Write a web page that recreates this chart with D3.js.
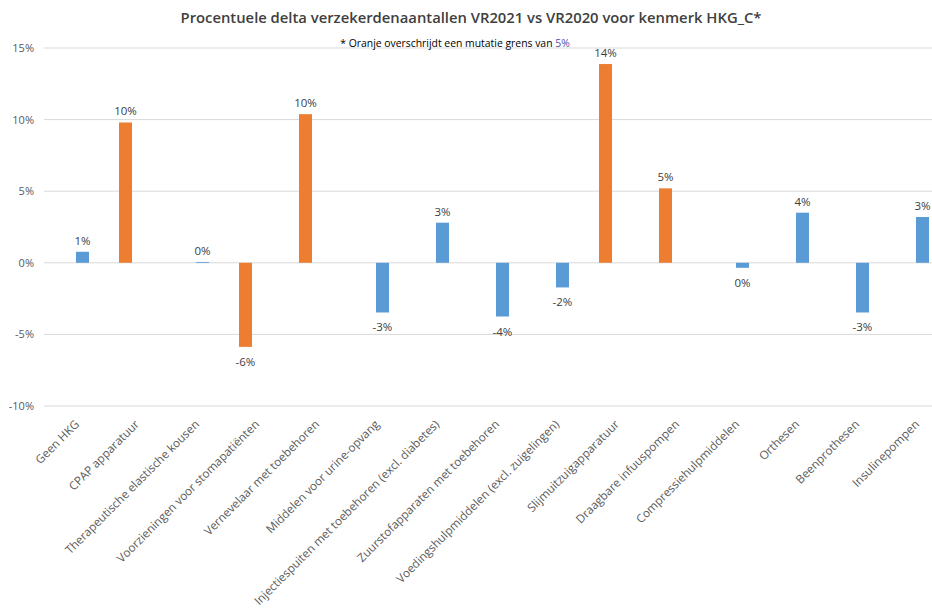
<!DOCTYPE html>
<html>
<head>
<meta charset="utf-8">
<script src="https://cdn.jsdelivr.net/npm/d3@7"></script>
<style>
  body { margin: 0; background: #fff; }
  svg { display: block; }
</style>
</head>
<body>
<svg id="chart" width="932" height="611"></svg>
<script>
const categories = [
  "Geen HKG",
  "CPAP apparatuur",
  "Therapeutische elastische kousen",
  "Voorzieningen voor stomapatiënten",
  "Vernevelaar met toebehoren",
  "Middelen voor urine-opvang",
  "Injectiespuiten met toebehoren (excl. diabetes)",
  "Zuurstofapparaten met toebehoren",
  "Voedingshulpmiddelen (excl. zuigelingen)",
  "Slijmuitzuigapparatuur",
  "Draagbare infuuspompen",
  "Compressiehulpmiddelen",
  "Orthesen",
  "Beenprothesen",
  "Insulinepompen"
];
// Orange = exceeds 5% mutation threshold, blue = within
const orangeValues = [null, 0.098, null, -0.0587, 0.1038, null, null, null, null, 0.1388, 0.052, null, null, null, null];
const blueValues   = [0.0077, null, 0.0006, null, null, -0.0347, 0.028, -0.0375, -0.0172, null, null, -0.0035, 0.035, -0.0347, 0.032];
const yTicks = [-0.10, -0.05, 0, 0.05, 0.10, 0.15];
const titleText = "Procentuele delta verzekerdenaantallen VR2021 vs VR2020 voor kenmerk HKG_C*";
const noteText = "* Oranje overschrijdt een mutatie grens van ";
const noteHighlight = "5%";

const svg = d3.select("#chart");
const plotLeft = 44, plotRight = 944, plotTop = 48, plotBottom = 406;

const x = d3.scaleBand().domain(categories).range([plotLeft, plotRight]).paddingInner(0).paddingOuter(0);
const sub = d3.scaleBand().domain(["oranje", "blauw"]).range([15, 45]).paddingInner(0.235);
const y = d3.scaleLinear().domain([-0.10, 0.15]).range([plotBottom, plotTop]);
const colors = { oranje: "#ED7D31", blauw: "#5B9BD5" };
const pct = v => `${Math.round(v * 100)}%`;
const font = "'Open Sans', sans-serif";

// gridlines
svg.append("g")
  .selectAll("line").data(yTicks).join("line")
  .attr("x1", plotLeft).attr("x2", 932)
  .attr("y1", d => y(d)).attr("y2", d => y(d))
  .attr("stroke", "#d9d9d9").attr("stroke-width", 1);

// y axis labels
const yAxis = d3.axisLeft(y).tickValues(yTicks).tickSize(0).tickPadding(0).tickFormat(pct);
const yg = svg.append("g").attr("transform", `translate(34,0)`).call(yAxis);
yg.select(".domain").remove();
yg.selectAll("text").attr("font-family", font).attr("font-size", 11).attr("fill", "#595959");

// bars
const rows = [];
categories.forEach((c, i) => {
  if (orangeValues[i] != null) rows.push({ c, s: "oranje", v: orangeValues[i] });
  if (blueValues[i] != null) rows.push({ c, s: "blauw", v: blueValues[i] });
});

svg.append("g").selectAll("rect").data(rows).join("rect")
  .attr("x", d => x(d.c) + sub(d.s))
  .attr("width", sub.bandwidth())
  .attr("y", d => Math.min(y(d.v), y(0)))
  .attr("height", d => Math.max(Math.abs(y(d.v) - y(0)), 0.8))
  .attr("fill", d => colors[d.s]);

// data labels
svg.append("g").selectAll("text").data(rows).join("text")
  .attr("x", d => x(d.c) + sub(d.s) + sub.bandwidth() / 2)
  .attr("y", d => d.v >= 0 ? y(d.v) - 7 : y(d.v) + 19)
  .attr("text-anchor", "middle")
  .attr("font-family", font).attr("font-size", 11.5)
  .attr("fill", "#404040")
  .text(d => pct(d.v));

// x category labels
svg.append("g").selectAll("text").data(categories).join("text")
  .attr("transform", d => `translate(${x(d) + x.bandwidth() / 2 + 6},425) rotate(-45)`)
  .attr("text-anchor", "end")
  .attr("font-family", font).attr("font-size", 11.7)
  .attr("fill", "#595959")
  .text(d => d);

// title
svg.append("text")
  .attr("x", 471).attr("y", 23)
  .attr("text-anchor", "middle")
  .attr("font-family", font).attr("font-size", 14.8).attr("font-weight", 600)
  .attr("fill", "#404040")
  .text(titleText);

// note
const note = svg.append("text")
  .attr("x", 455).attr("y", 47)
  .attr("text-anchor", "middle")
  .attr("font-family", font).attr("font-size", 10.4)
  .attr("fill", "#000");
note.append("tspan").text(noteText);
note.append("tspan").attr("fill", "#5050a8").text(noteHighlight);
</script>
</body>
</html>
